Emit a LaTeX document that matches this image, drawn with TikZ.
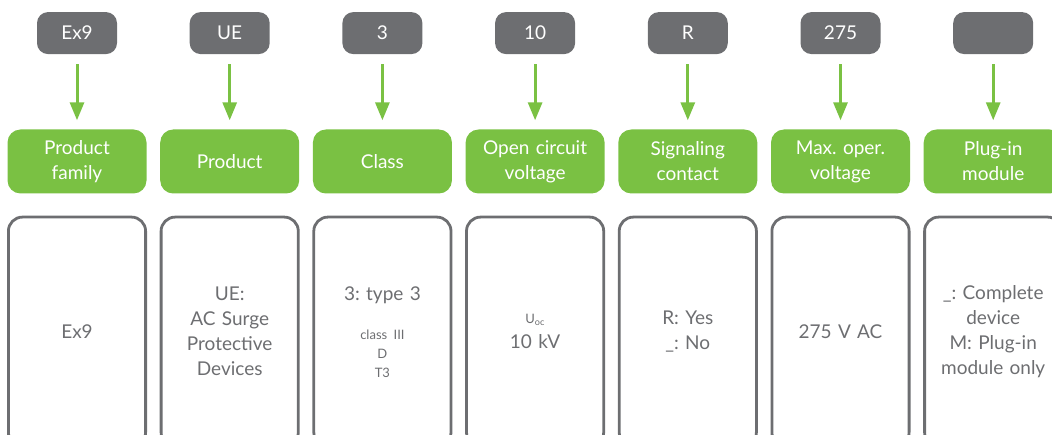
\documentclass[tikz,border=0pt]{standalone}
\usepackage{fontspec}
\setmainfont{Lato}
\usetikzlibrary{positioning, arrows.meta}
\usepackage{xcolor}
\definecolor{codegray}{HTML}{6D6E71}
\definecolor{codegreen}{HTML}{7AC143}
\frenchspacing

\begin{document}
\begin{tikzpicture}[
    x=1pt, y=1pt,
    node distance=22pt and 13.3pt,
    code/.style={rectangle, fill=codegray, rounded corners=11pt, minimum width=80pt, minimum height=42pt, text=white, font=\fontsize{19}{25}\selectfont},
    field/.style={rectangle, fill=codegreen, rounded corners=13pt, minimum width=139pt, minimum height=64pt, text width=132pt, inner sep=0pt, align=center, text=white, font=\fontsize{19}{25}\selectfont},
    meaning/.style={rectangle, draw=codegray, line width=2.8pt, rounded corners=14pt, minimum width=137.2pt, minimum height=229.2pt, text width=128pt, inner sep=0pt, align=center, text=codegray, font=\fontsize{19}{25}\selectfont},
    line/.style={draw=codegreen, line width=3pt, shorten <=10pt, shorten >=9pt, -{Triangle[length=18pt, width=14pt]}}
]
\useasboundingbox (0,0) rectangle (1052,-435);
\clip (0,0) rectangle (1052,-435);

% Fields
\node[field] (family) at (77,-161.5) {Product\\ family};
\node[field, right=of family] (product) {Product};
\node[field, right=of product] (class) {Class};
\node[field, right=of class] (voltage) {Open circuit\\ voltage};
\node[field, right=of voltage] (signal) {Signaling\\ contact};
\node[field, right=of signal] (maxvolt) {Max. oper.\\ voltage};
\node[field, right=of maxvolt] (plugin) {Plug-in\\ module};

% Codes
\node[code, above=75pt of family] (c-family) {Ex9};
\node[code, above=75pt of product] (c-product) {UE};
\node[code, above=75pt of class] (c-class) {3};
\node[code, above=75pt of voltage] (c-voltage) {10};
\node[code, above=75pt of signal] (c-signal) {R};
\node[code, above=75pt of maxvolt] (c-maxvolt) {275};
\node[code, above=75pt of plugin] (c-plugin) {};

% Meanings
\node[meaning, below=of family] (m-family) {Ex9};
\node[meaning, below=of product] (m-product) {UE:\\ AC Surge\\ Protective\\ Devices};
\node[meaning, below=of class] (m-class) {3: type 3\\[20pt]{\fontsize{13}{19}\selectfont class III\\ D\\ T3\par}};
\node[meaning, below=of voltage] (m-voltage) {{\fontsize{13}{16}\selectfont U\textsubscript{oc}\par}\fontsize{19}{26}\selectfont 10 kV};
\node[meaning, below=of signal] (m-signal) {R: Yes\\ \_: No};
\node[meaning, below=of maxvolt] (m-maxvolt) {275 V AC};
\node[meaning, below=of plugin] (m-plugin) {\_: Complete\\ device\\ M: Plug-in\\ module only};

% Arrows
\draw[line] (c-family) -- (family);
\draw[line] (c-product) -- (product);
\draw[line] (c-class) -- (class);
\draw[line] (c-voltage) -- (voltage);
\draw[line] (c-signal) -- (signal);
\draw[line] (c-maxvolt) -- (maxvolt);
\draw[line] (c-plugin) -- (plugin);

\end{tikzpicture}
\end{document}
